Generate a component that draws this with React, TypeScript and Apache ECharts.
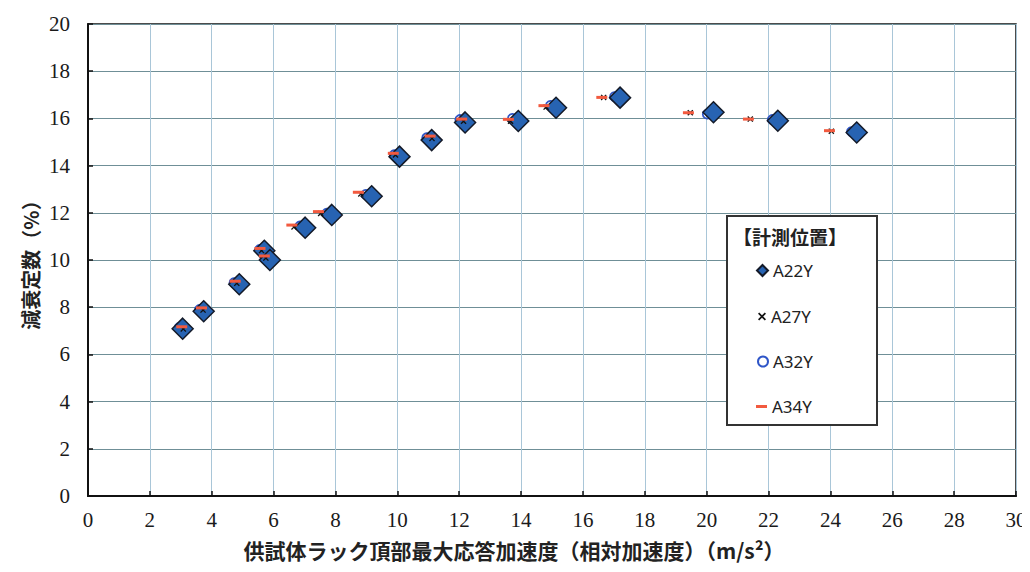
import React, { useEffect, useRef } from "react";
import * as echarts from "echarts";

const a22x = [3.06, 3.74, 4.89, 5.70, 5.88, 7.02, 7.88, 9.17, 10.07, 11.11, 12.19, 13.91, 15.13, 17.20, 20.22, 22.30, 24.85];
const a22y = [7.09, 7.83, 8.97, 10.39, 10.0, 11.37, 11.91, 12.70, 14.38, 15.08, 15.83, 15.89, 16.45, 16.88, 16.26, 15.90, 15.40];

const a27x = [3.08, 3.72, 4.81, 5.61, 5.75, 6.66, 7.52, 8.82, 9.94, 11.12, 12.14, 13.66, 14.81, 16.67, 19.47, 21.41, 24.03];
const a27y = [7.08, 7.88, 9.01, 10.40, 10.08, 11.40, 11.97, 12.80, 14.45, 15.15, 15.88, 15.88, 16.48, 16.89, 16.24, 15.97, 15.46];

const a32x = [2.95, 3.60, 4.72, 5.55, 5.72, 6.85, 7.72, 8.98, 9.90, 10.95, 12.02, 13.72, 14.95, 17.02, 20.02, 22.12, 24.68];
const a32y = [7.14, 7.90, 9.04, 10.45, 10.08, 11.44, 11.98, 12.78, 14.46, 15.18, 15.95, 16.00, 16.55, 16.92, 16.18, 15.95, 15.44];

const a34x = [3.03, 3.67, 4.76, 5.56, 5.70, 6.59, 7.45, 8.74, 9.87, 11.06, 12.08, 13.59, 14.74, 16.61, 19.41, 21.35, 23.97];
const a34y = [7.17, 7.97, 9.10, 10.49, 10.17, 11.48, 12.05, 12.87, 14.52, 15.25, 15.97, 15.96, 16.54, 16.89, 16.24, 15.97, 15.48];

const seriesNames = ["A22Y", "A27Y", "A32Y", "A34Y"];
const legendTitle = "【計測位置】";
const xAxisName = "供試体ラック頂部最大応答加速度（相対加速度）（m/s²）";
const yAxisName = "減衰定数（%）";

const CROSS = "path://M0,1.5L1.5,0L5,3.5L8.5,0L10,1.5L6.5,5L10,8.5L8.5,10L5,6.5L1.5,10L0,8.5L3.5,5Z";
const SERIF = "'Liberation Serif', 'Times New Roman', serif";
const CJK = "'Noto Sans CJK JP', 'Noto Sans', sans-serif";

const zip = (xs: number[], ys: number[]) => xs.map((x, i) => [x, ys[i]]);

export default function App() {
  const ref = useRef<HTMLDivElement>(null);
  useEffect(() => {
    if (!ref.current) return;
    const chart = echarts.init(ref.current, undefined, { renderer: "svg" });
    const legendText = { fontFamily: "'Noto Sans', sans-serif", fontSize: 17, color: "#222", lineHeight: 16 };
    const mkLegend = (name: string, top: number, w: number, h: number, left: number) => ({
      data: [name],
      left,
      top,
      itemWidth: w,
      itemHeight: h,
      itemGap: 0,
      padding: 0,
      textStyle: legendText,
      selectedMode: false,
      z: 10,
    });
    const tickLabel = { fontFamily: SERIF, fontSize: 21, lineHeight: 21, color: "#1a1a1a" };
    chart.setOption({
      animation: false,
      backgroundColor: "#ffffff",
      grid: {
        left: 88,
        right: 14,
        top: 24,
        bottom: 76,
        show: true,
        borderColor: "#111",
        borderWidth: 1.5,
        outerBoundsMode: "none",
        containLabel: false,
      },
      xAxis: {
        type: "value",
        min: 0,
        max: 30,
        interval: 2,
        name: xAxisName,
        nameLocation: "middle",
        nameGap: 43,
        nameMoveOverlap: false,
        nameTextStyle: { fontFamily: CJK, fontWeight: "bold", fontSize: 21, lineHeight: 21, color: "#222", padding: [0, 76, 0, 0] },
        axisLine: { lineStyle: { color: "#111", width: 2 } },
        axisTick: { inside: true, length: 5, lineStyle: { color: "#111", width: 1.5 } },
        axisLabel: { ...tickLabel, margin: 13 },
        splitLine: { show: true, lineStyle: { color: "#a9c6d8", width: 1 } },
      },
      yAxis: {
        type: "value",
        min: 0,
        max: 20,
        interval: 2,
        name: yAxisName,
        nameLocation: "middle",
        nameGap: 48,
        nameMoveOverlap: false,
        nameTextStyle: { fontFamily: CJK, fontWeight: "bold", fontSize: 20, color: "#222" },
        axisLine: { lineStyle: { color: "#111", width: 2 } },
        axisTick: { inside: true, length: 5, lineStyle: { color: "#111", width: 1.5 } },
        axisLabel: { ...tickLabel, margin: 18 },
        splitLine: { show: true, lineStyle: { color: "#6f8f97", width: 1.2 } },
      },
      legend: [
        mkLegend("A22Y", 262, 11, 11, 756),
        mkLegend("A27Y", 308, 8, 8, 758),
        mkLegend("A32Y", 353, 10, 10, 757),
        mkLegend("A34Y", 398, 11, 3, 756),
      ],
      graphic: [
        {
          type: "rect",
          shape: { x: 727, y: 216, width: 150, height: 209 },
          style: { fill: "#ffffff", stroke: "#333", lineWidth: 2 },
          z: 6,
        },
        {
          type: "text",
          x: 790,
          y: 236,
          style: {
            text: legendTitle,
            fontFamily: CJK,
            fontWeight: "bold",
            fontSize: 19,
            fill: "#222",
            align: "center",
            verticalAlign: "middle",
          },
          z: 7,
        },
      ],
      series: [
        {
          name: seriesNames[0],
          type: "scatter",
          data: zip(a22x, a22y),
          symbol: "diamond",
          symbolSize: 21,
          itemStyle: { color: "#2763b2", borderColor: "#141a28", borderWidth: 1.5, opacity: 1 },
          z: 2,
        },
        {
          name: seriesNames[1],
          type: "scatter",
          data: zip(a27x, a27y),
          symbol: CROSS,
          symbolSize: 6,
          itemStyle: { color: "#111", opacity: 1 },
          z: 3,
        },
        {
          name: seriesNames[2],
          type: "scatter",
          data: zip(a32x, a32y),
          symbol: "circle",
          symbolSize: 9,
          itemStyle: { color: "rgba(0,0,0,0)", borderColor: "#2f56c8", borderWidth: 1.8, opacity: 1 },
          z: 1,
        },
        {
          name: seriesNames[3],
          type: "scatter",
          data: zip(a34x, a34y),
          symbol: "rect",
          symbolSize: [11, 3],
          itemStyle: { color: "#f25a3f", opacity: 1 },
          z: 4,
        },
      ],
    });
    return () => chart.dispose();
  }, []);
  return <div ref={ref} style={{ width: 1030, height: 572, margin: -8 }} />;
}
